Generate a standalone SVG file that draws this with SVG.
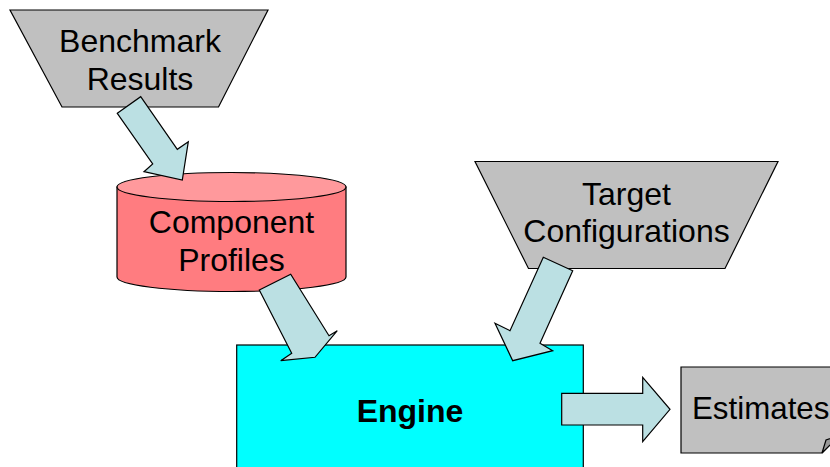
<svg xmlns="http://www.w3.org/2000/svg" width="830" height="467" viewBox="0 0 830 467">
<style>
.lbl{font-family:"Liberation Sans",Arial,sans-serif;font-size:32px;fill:#000;text-anchor:middle}
.bold{font-weight:bold}
.gray{fill:#C0C0C0;stroke:#000;stroke-width:1.2}
.arrow{fill:#BBE0E3;stroke:#000;stroke-width:1.2;stroke-linejoin:miter}
</style>
<rect width="830" height="467" fill="#FFFFFF"/>
<g id="benchmark">
<polygon class="gray" points="10,10 268,10 218.5,107 62,107"/>
<text class="lbl" x="140" y="52">Benchmark</text>
<text class="lbl" x="140" y="90">Results</text>
</g>
<g id="component">
<path d="M117,187 L117,277 A114.5,14.5 0 0 0 346,277 L346,187 Z" fill="#FF7C80" stroke="#000" stroke-width="1.2"/>
<ellipse cx="231.5" cy="187" rx="114.5" ry="14.5" fill="#FF999C" stroke="#000" stroke-width="1.2"/>
<text class="lbl" x="231.5" y="232.5">Component</text>
<text class="lbl" x="231.5" y="271">Profiles</text>
</g>
<g id="target">
<polygon class="gray" points="475,161.5 778,161.5 725,268.5 528.5,268.5"/>
<text class="lbl" x="626.5" y="205">Target</text>
<text class="lbl" x="626.5" y="242">Configurations</text>
</g>
<g id="engine">
<rect x="236.7" y="345" width="346.6" height="130" fill="#00FFFF" stroke="#000" stroke-width="1.2"/>
<text class="lbl bold" x="410" y="421.5">Engine</text>
</g>
<g id="estimates">
<path d="M681,367 L840,367 L840,435 L822,453 L681,453 Z" fill="#C0C0C0" stroke="#000" stroke-width="1.2"/>
<polygon points="822,453 826,440 840,435" fill="#999999" stroke="#000" stroke-width="1.2"/>
<text class="lbl" x="692" y="418.5" style="text-anchor:start;font-size:31.3px">Estimates</text>
</g>
<g id="connectors">
<polygon class="arrow" points="117.3,113.3 140.7,96.7 177.3,149.3 188.3,141.7 182.3,180 144,171.7 152.7,164"/>
<polygon class="arrow" points="259.3,290 290.7,274.3 329,335.7 337.3,330.7 315,357.3 280.7,360.7 291.7,353.3"/>
<polygon class="arrow" points="572.7,270.7 543.3,257.3 510,330.7 495,323.3 512.7,360.7 552.7,350.7 540,343.3"/>
<polygon class="arrow" points="561.7,393.3 642.7,393.3 642.7,377.3 670,409.3 642.7,441.7 642.7,425 561.7,425"/>
</g>
</svg>
